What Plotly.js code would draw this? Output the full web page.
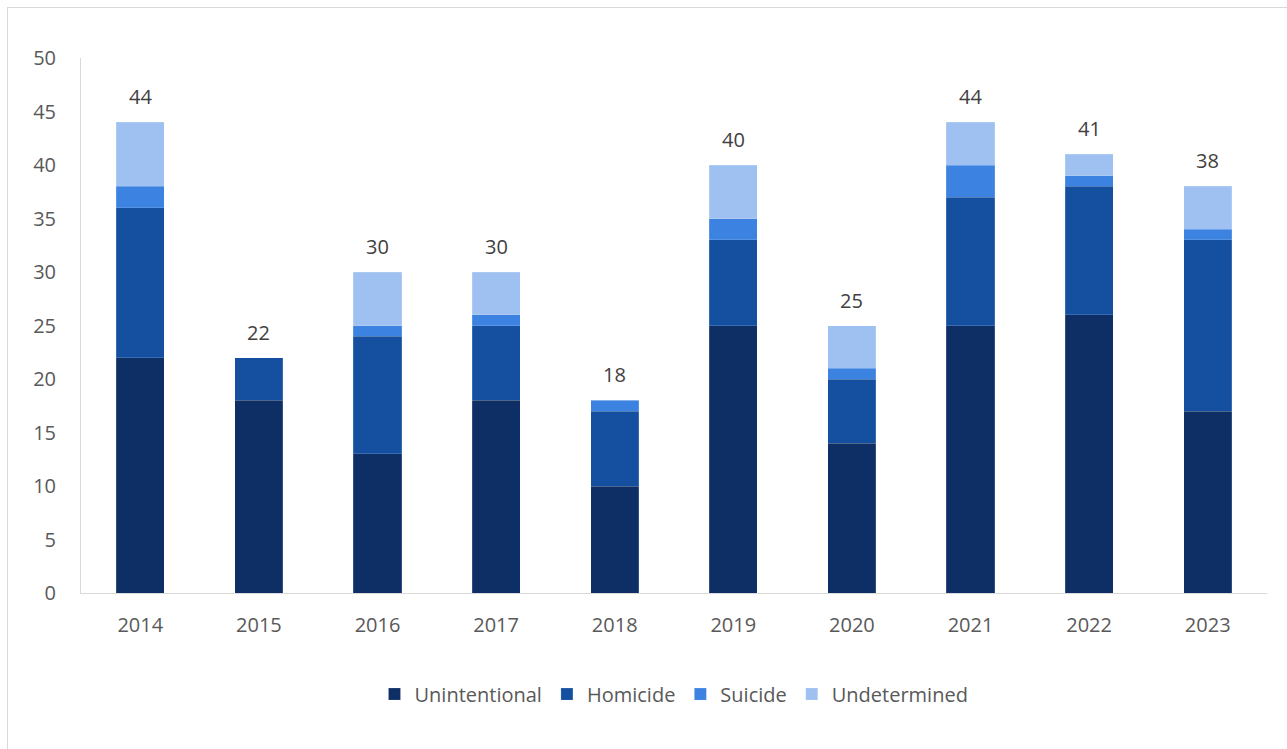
<!DOCTYPE html>
<html>
<head>
<meta charset="utf-8">
<script src="https://cdn.plot.ly/plotly-3.0.1.min.js"></script>
<style>
  html, body { margin: 0; padding: 0; background: #fff; overflow: hidden; }
  #wrap { position: relative; width: 1287px; height: 749px; }
  #chart { position: absolute; left: 0; top: 0; width: 1287px; height: 749px; }
  #frame { position: absolute; left: 7px; top: 7px; width: 1400px; height: 900px;
           border-left: 1px solid #d9d9d9; border-top: 1px solid #d9d9d9; pointer-events: none; }
</style>
</head>
<body>
<div id="wrap">
  <div id="chart"></div>
  <div id="frame"></div>
</div>
<script>
const years = ['2014','2015','2016','2017','2018','2019','2020','2021','2022','2023'];
const unintentional = [22, 18, 13, 18, 10, 25, 14, 25, 26, 17];
const homicide      = [14,  4, 11,  7,  7,  8,  6, 12, 12, 16];
const suicide       = [ 2,  0,  1,  1,  1,  2,  1,  3,  1,  1];
const undetermined  = [ 6,  0,  5,  4,  0,  5,  4,  4,  2,  4];
const seriesNames = ['Unintentional', 'Homicide', 'Suicide', 'Undetermined'];
const colors = ['#0e2f66', '#1550a0', '#3c82e0', '#9fc1f1'];

const allSeries = [unintentional, homicide, suicide, undetermined];
const traces = allSeries.map((vals, i) => ({
  type: 'bar',
  name: seriesNames[i],
  x: years,
  y: vals,
  marker: { color: colors[i], line: { color: 'rgba(255,255,255,0.25)', width: 0.6 } },
  hoverinfo: 'x+y+name'
}));

const totals = years.map((_, j) => allSeries.reduce((s, arr) => s + arr[j], 0));
// category axis: annotation x given as category index
const annotations = years.map((yr, j) => ({
  x: j, y: totals[j], xref: 'x', yref: 'y',
  text: String(totals[j]), showarrow: false,
  yanchor: 'bottom', yshift: 10,
  font: { family: 'Open Sans, sans-serif', size: 20, color: '#404040' }
}));

const layout = {
  width: 1287, height: 749,
  margin: { l: 81, r: 20, t: 58, b: 156 },
  barmode: 'stack',
  bargap: 0.595,
  paper_bgcolor: 'rgba(0,0,0,0)',
  plot_bgcolor: 'rgba(0,0,0,0)',
  font: { family: 'Open Sans, sans-serif', color: '#595959', size: 19 },
  xaxis: {
    type: 'category',
    showline: true, linecolor: '#d9d9d9', linewidth: 1,
    showgrid: false, zeroline: false,
    ticks: '', tickfont: { size: 20, color: '#595959' },
    ticklabelstandoff: 14
  },
  yaxis: {
    range: [0, 50], dtick: 5, tick0: 0,
    showline: true, linecolor: '#d9d9d9', linewidth: 1,
    showgrid: false, zeroline: false,
    ticks: '', tickfont: { size: 20, color: '#595959' },
    ticklabelstandoff: 20
  },
  legend: {
    orientation: 'h', x: 0.5, xanchor: 'center', y: -0.189, yanchor: 'middle',
    font: { size: 20, color: '#595959' },
    traceorder: 'normal'
  },
  annotations: annotations,
  showlegend: true
};

Plotly.newPlot('chart', traces, layout, { displayModeBar: false, staticPlot: true });
</script>
</body>
</html>
